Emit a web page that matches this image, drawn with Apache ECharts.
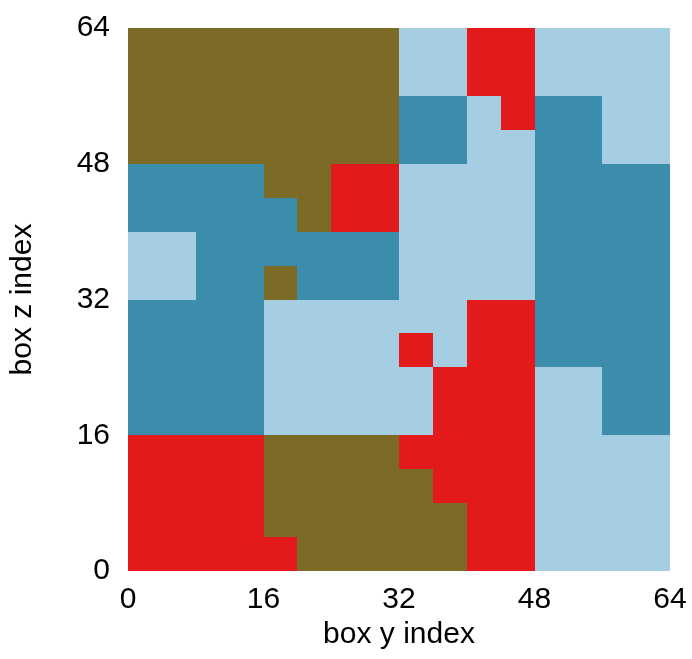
<!DOCTYPE html>
<html>
<head>
<meta charset="utf-8">
<script src="https://cdn.jsdelivr.net/npm/echarts@6/dist/echarts.min.js"></script>
<style>
  html, body { margin: 0; padding: 0; background: #fff; }
  #chart { width: 692px; height: 659px; }
</style>
</head>
<body>
<div id="chart"></div>
<script>
// one string per row of boxes, top row (z 60-64) first, columns y 0-4 ... 60-64
// O olive, D teal, L light blue, R red
const boxRows = [
  "OOOOOOOOLLRRLLLL",
  "OOOOOOOOLLRRLLLL",
  "OOOOOOOODDLRDDLL",
  "OOOOOOOODDLLDDLL",
  "DDDDOORRLLLLDDDD",
  "DDDDDORRLLLLDDDD",
  "LLDDDDDDLLLLDDDD",
  "LLDDODDDLLLLDDDD",
  "DDDDLLLLLLRRDDDD",
  "DDDDLLLLRLRRDDDD",
  "DDDDLLLLLRRRLLDD",
  "DDDDLLLLLRRRLLDD",
  "RRRROOOORRRRLLLL",
  "RRRROOOOORRRLLLL",
  "RRRROOOOOORRLLLL",
  "RRRRROOOOORRLLLL",
];
const boxSize = 4;
const boxCodes = ["O", "D", "L", "R"];
const boxPalette = ["#7b6b27", "#3c8cac", "#a6cee3", "#e31a1c"];

// [y start, z start, colour index]
const boxData = [];
boxRows.forEach((row, r) => {
  const z0 = (boxRows.length - 1 - r) * boxSize;
  row.split("").forEach((code, c) => {
    boxData.push([c * boxSize, z0, boxCodes.indexOf(code)]);
  });
});

const chart = echarts.init(document.getElementById("chart"));

const axisFont = {
  fontFamily: "Liberation Sans",
  fontSize: 30,
  color: "#000",
};

const option = {
  animation: false,
  grid: { left: 127, right: 22, top: 28, bottom: 88 },
  xAxis: {
    type: "value",
    min: 0,
    max: 64,
    interval: 16,
    name: "box y index",
    nameLocation: "middle",
    nameGap: 49,
    nameTextStyle: axisFont,
    axisLine: { show: false },
    axisTick: { show: false },
    splitLine: { show: false },
    axisLabel: { ...axisFont, margin: 14, showMinLabel: true, showMaxLabel: true },
  },
  yAxis: {
    type: "value",
    min: 0,
    max: 64,
    interval: 16,
    name: "box z index",
    nameLocation: "middle",
    nameGap: 90,
    nameTextStyle: axisFont,
    axisLine: { show: false },
    axisTick: { show: false },
    splitLine: { show: false },
    axisLabel: { ...axisFont, margin: 18, showMinLabel: true, showMaxLabel: true },
  },
  series: [
    {
      type: "custom",
      data: boxData,
      renderItem: (params, api) => {
        const p0 = api.coord([api.value(0), api.value(1) + boxSize]);
        const p1 = api.coord([api.value(0) + boxSize, api.value(1)]);
        const x0 = Math.round(p0[0]);
        const y0 = Math.round(p0[1]);
        const x1 = Math.round(p1[0]);
        const y1 = Math.round(p1[1]);
        return {
          type: "rect",
          shape: { x: x0, y: y0, width: x1 - x0, height: y1 - y0 },
          style: { fill: boxPalette[api.value(2)] },
        };
      },
    },
  ],
};

chart.setOption(option);
</script>
</body>
</html>
